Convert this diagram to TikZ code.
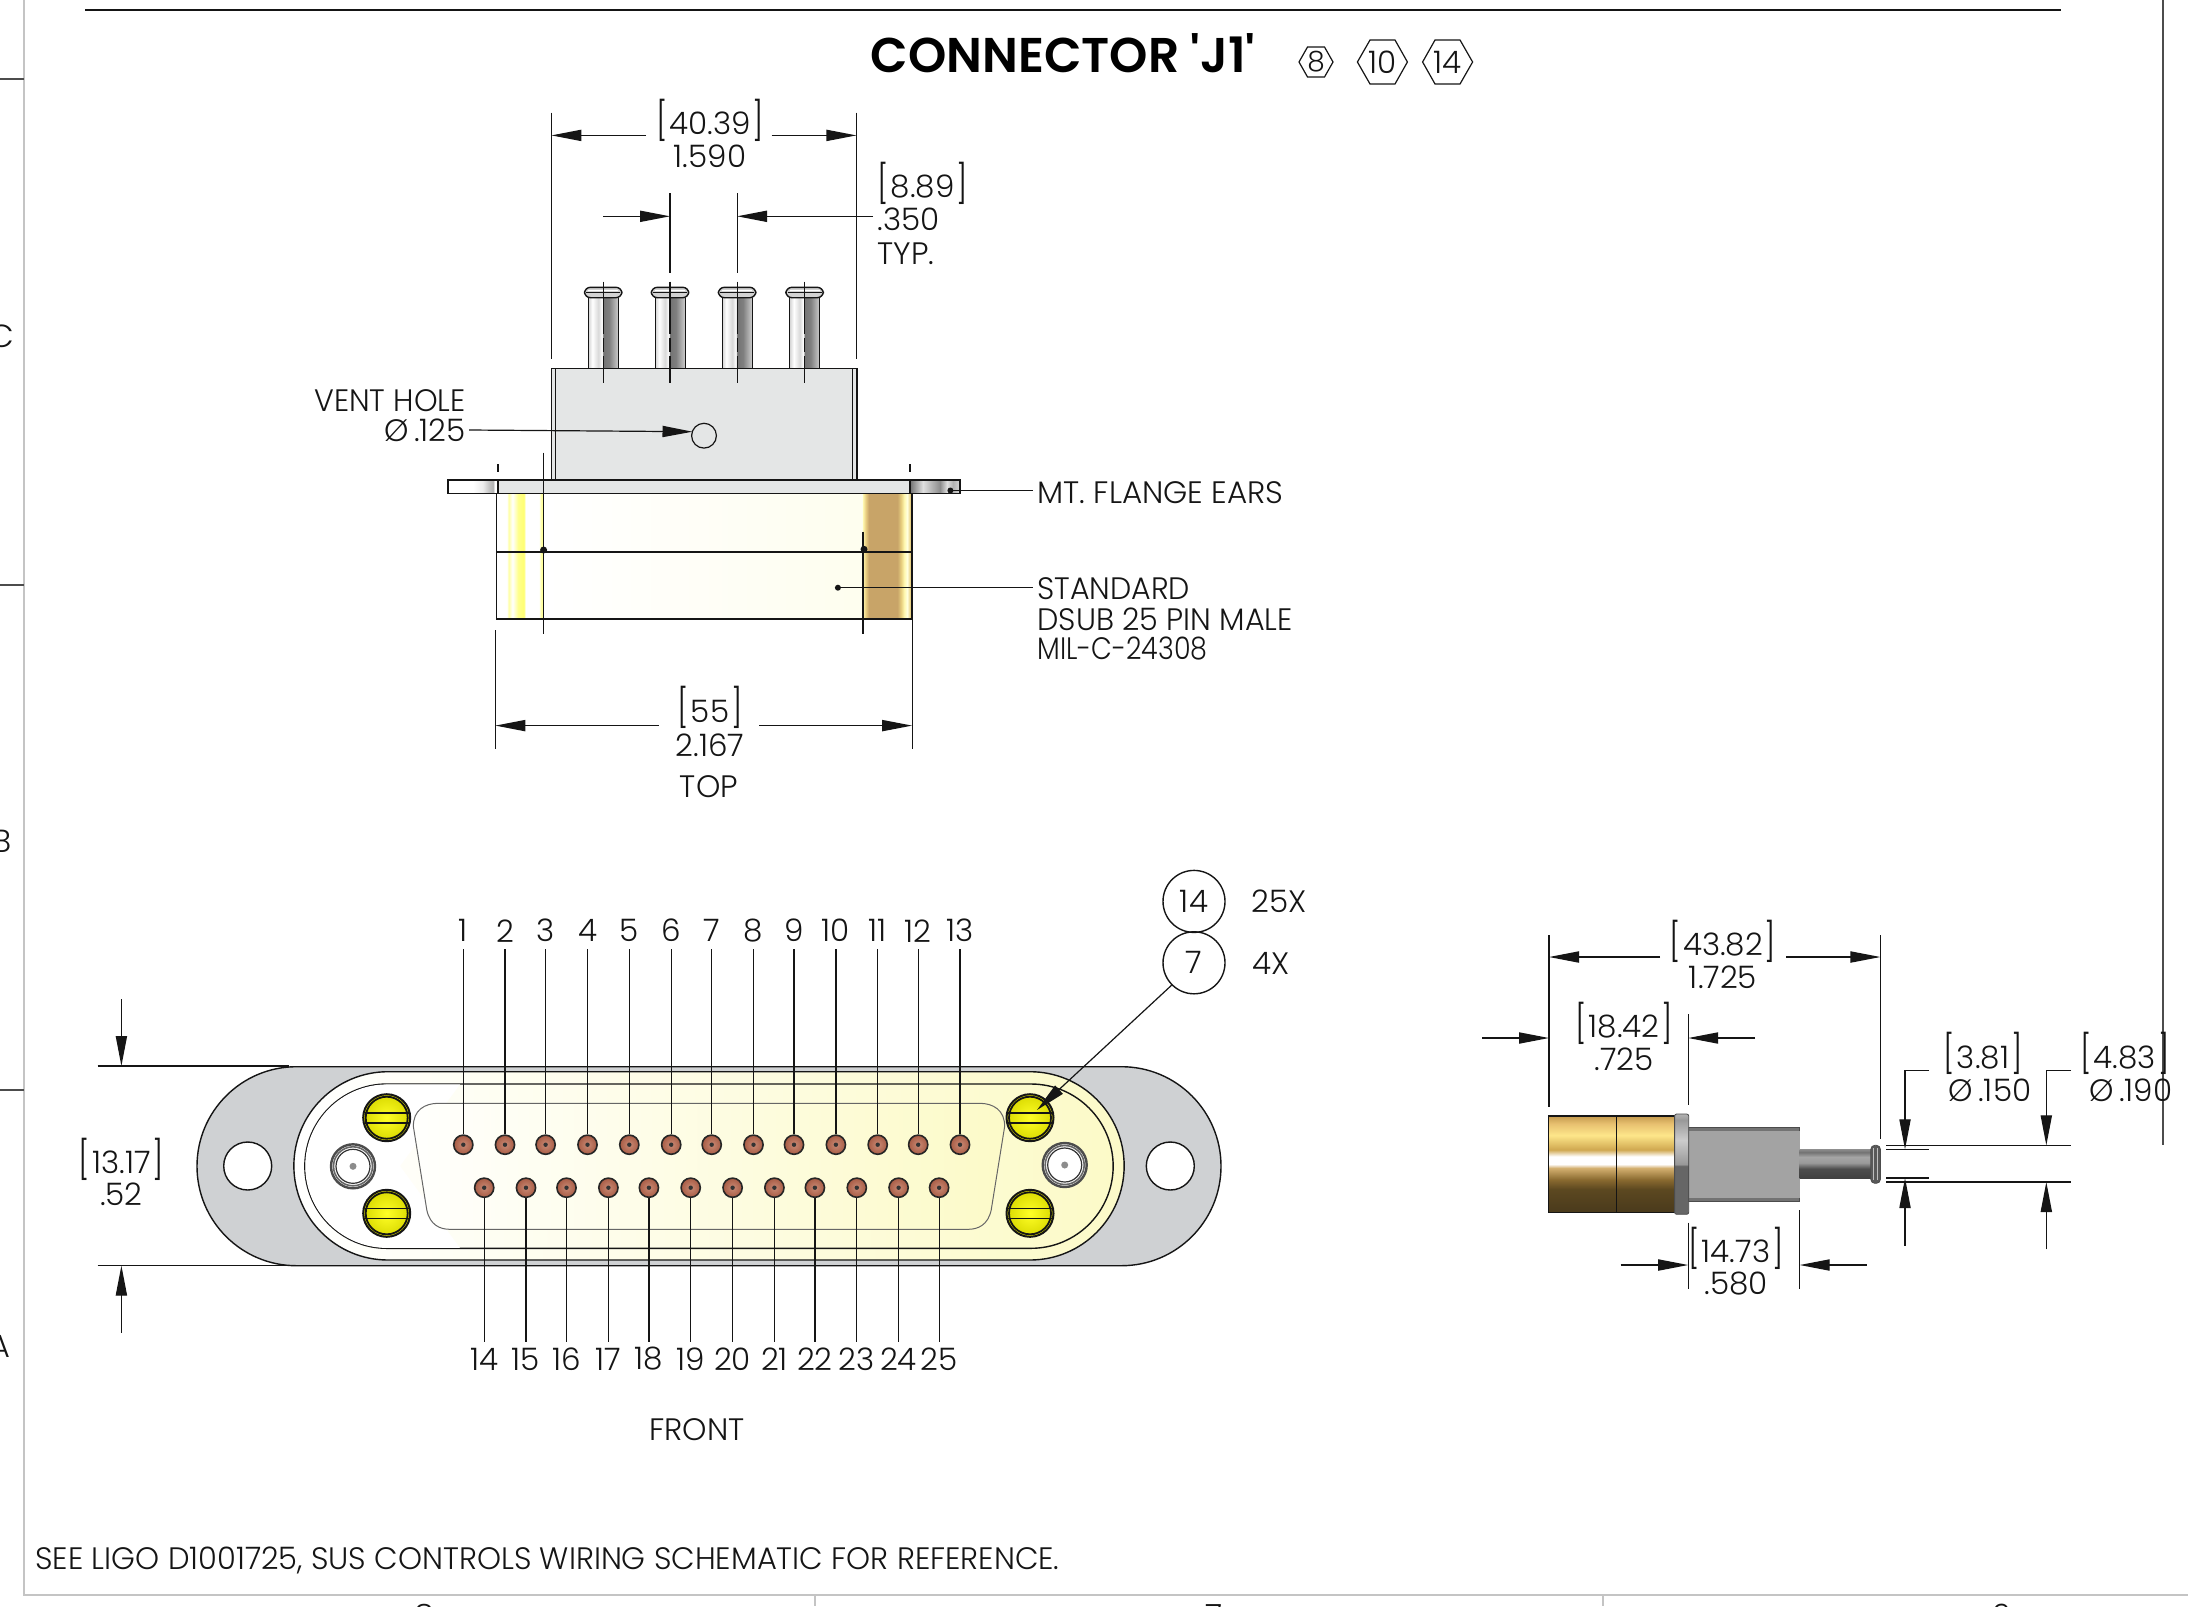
\documentclass[tikz,border=0pt]{standalone}
\usepackage{fontspec}
\setmainfont{Poppins}[UprightFont=* Light,BoldFont=* SemiBold]
\newfontfamily\titlefont{Poppins SemiBold}
\usetikzlibrary{arrows.meta}
\definecolor{flgray}{HTML}{CFD1D3}
\definecolor{boxgray}{HTML}{E4E6E6}
\definecolor{cream}{HTML}{FCFAC8}
\definecolor{ink}{HTML}{151515}
\definecolor{borderg}{HTML}{C4C4C4}
\definecolor{ga}{HTML}{C49A4E}\definecolor{gb}{HTML}{E8C070}\definecolor{gc}{HTML}{FDE68A}\definecolor{gd}{HTML}{D0A850}
\definecolor{ge}{HTML}{D4B070}\definecolor{gf}{HTML}{8A6A30}\definecolor{gg}{HTML}{5C4820}\definecolor{gh}{HTML}{4A3A1C}
\definecolor{ra}{HTML}{FFF8B0}\definecolor{rb}{HTML}{E8CC80}\definecolor{rc}{HTML}{C8A468}\definecolor{rd}{HTML}{E8D080}\definecolor{re}{HTML}{FFFFE0}
\definecolor{pinin}{HTML}{C98A75}\definecolor{pinout}{HTML}{A85C45}
\pgfdeclarehorizontalshading{goldR}{100bp}{color(0bp)=(ra);color(25bp)=(ra);color(28bp)=(rb);color(31bp)=(rc);color(60bp)=(rc);color(64bp)=(rd);color(67bp)=(ra);color(70bp)=(re);color(73bp)=(rd);color(75bp)=(re);color(100bp)=(re)}
\pgfdeclarehorizontalshading{goldL}{100bp}{color(0bp)=(white);color(25bp)=(white);color(36bp)=(white);color(38bp)=(yellow!35!white);color(42bp)=(white);color(48bp)=(yellow!45!white);color(54bp)=(yellow!55!white);color(56bp)=(white);color(70bp)=(white);color(73bp)=(yellow!45!white);color(75bp)=(white);color(100bp)=(white)}
\pgfdeclarehorizontalshading{pinsh}{100bp}{color(0bp)=(white);color(25bp)=(gray!35);color(32bp)=(white);color(42bp)=(gray!30);color(48bp)=(white);color(50bp)=(gray!90!black);color(60bp)=(gray);color(70bp)=(gray!60);color(75bp)=(gray!40);color(100bp)=(gray)}
\pgfdeclarehorizontalshading{flL}{100bp}{color(0bp)=(white);color(50bp)=(white);color(60bp)=(gray!15);color(66bp)=(gray!45);color(70bp)=(gray!60);color(72bp)=(white);color(100bp)=(white)}
\pgfdeclarehorizontalshading{flR}{100bp}{color(0bp)=(gray);color(25bp)=(gray!90!black);color(38bp)=(gray!25);color(55bp)=(gray!90);color(62bp)=(gray!25);color(68bp)=(gray!60);color(75bp)=(gray!30);color(100bp)=(gray)}
\pgfdeclareverticalshading{goldS}{100bp}{color(0bp)=(gh);color(25bp)=(gh);color(37bp)=(gg);color(42bp)=(gf);color(48bp)=(ge);color(50bp)=(white);color(54bp)=(white);color(57.5bp)=(gd);color(65bp)=(gc);color(71bp)=(gb);color(75bp)=(ga);color(100bp)=(ga)}
\pgfdeclareverticalshading{stemS}{100bp}{color(0bp)=(black!70);color(25bp)=(black!75);color(42bp)=(black!70);color(52bp)=(black!40);color(62bp)=(black!35);color(70bp)=(black!55);color(75bp)=(black!45);color(100bp)=(black!50)}
\pgfdeclareverticalshading{flS}{100bp}{color(0bp)=(black!60);color(25bp)=(black!60);color(49bp)=(black!60);color(50bp)=(black!40);color(62bp)=(black!20);color(72bp)=(black!40);color(75bp)=(black!30);color(100bp)=(black!30)}
\tikzset{
  lbl/.style={font=\fontsize{15.5}{17}\selectfont,inner sep=0pt,text=ink},
  brk/.style={lbl,yshift=-0.7pt},
  thinl/.style={draw=ink,line width=0.6pt},
  outl/.style={draw=ink,line width=0.7pt},
  dimarr/.style={thinl,-{Triangle[length=15pt,width=5.6pt]}},
  pinst/.style={circle,draw=black!85,line width=0.8pt,inner sep=0pt,minimum size=9.6pt,shading=radial,inner color=pinin,outer color=pinout},
  hexa/.style={draw=ink,line width=0.6pt},
  balloon/.style={circle,draw=ink,line width=0.7pt,minimum size=31pt,inner sep=0pt,font=\fontsize{15.5}{17}\selectfont,text=ink}
}
\newcommand{\bl}{\smash{\raisebox{0.3pt}{\scalebox{1}[1.22]{[}}}\hspace{1pt}}
\newcommand{\br}{\hspace{1pt}\smash{\raisebox{0.3pt}{\scalebox{1}[1.22]{]}}}}
\newcommand{\pinhead}[1]{%
  \shade[shading=pinsh] (#1-15,297.7) rectangle (#1+15,368.3);
  \draw[outl,line width=0.5pt] (#1-15,297.7) -- (#1-15,368.3) (#1+15,297.7) -- (#1+15,368.3);
  \draw[outl,fill=gray!35,rounded corners=3pt] (#1-18.7,287.3) rectangle (#1+18.7,297.7);
  \draw[white,line width=0.8pt] (#1-15,290.5) -- (#1+15,290.5);
  \draw[ink,line width=0.4pt] (#1-17,292.5) -- (#1+17,292.5);
  \draw[thinl] (#1,281.7) -- (#1,320);
  \draw[thinl,dash pattern=on 7pt off 2pt] (#1,320) -- (#1,368);
  \draw[thinl] (#1,368.3) -- (#1,383.3);
}
\newcommand{\screw}[2]{%
  \draw[ink,line width=1pt,shading=radial,inner color=yellow!85!white,outer color=yellow!85!black] (#1,#2) circle[radius=23.5];
  \draw[ink,line width=0.9pt] (#1,#2) circle[radius=21];
  \draw[ink,line width=0.8pt] (#1-22,#2-5) -- (#1+22,#2-5) (#1-22,#2+5) -- (#1+22,#2+5);
}
\begin{document}
\begin{tikzpicture}[x=0.5pt,y=-0.5pt]
\useasboundingbox (0,0) rectangle (2188,1606);
\clip (0,0) rectangle (2188,1606);
\fill[white] (0,0) rectangle (2188,1606);
% ---------- sheet frame
\draw[borderg,line width=1.1pt] (24,0) -- (24,1595) -- (2188,1595);
\draw[borderg,line width=1pt] (815,1595) -- (815,1606) (1603,1595) -- (1603,1606);
\draw[black!70,line width=1pt] (0,79) -- (24,79) (0,585) -- (24,585) (0,1090) -- (24,1090);
\draw[ink,line width=0.9pt] (85,10) -- (2061,10);
\draw[black!70,line width=1.3pt] (2163,0) -- (2163,1145);
\node[lbl,font=\fontsize{16}{18}\selectfont] (mC) at (2,336) {C};
\node[lbl,font=\fontsize{16}{18}\selectfont] (mB) at (2,841) {B};
\node[lbl,font=\fontsize{16}{18}\selectfont] (mA) at (0,1346) {A};
\node[lbl,font=\fontsize{16}{18}\selectfont] (m8) at (424,1616) {8};
\node[lbl,font=\fontsize{16}{18}\selectfont] (m7) at (1214,1616) {7};
\node[lbl,font=\fontsize{16}{18}\selectfont] (m6) at (2002,1616) {6};
% ---------- title
\node[inner sep=0pt,font=\titlefont\fontsize{24.4}{26}\selectfont,text=black] (title) at (1063,53) {CONNECTOR 'J1'};
\draw[hexa] (1299,62) -- (1307.5,47) -- (1324.5,47) -- (1333,62) -- (1324.5,77) -- (1307.5,77) -- cycle;
\node[lbl,font=\fontsize{14}{16}\selectfont] (h8) at (1316,62) {8};
\draw[hexa] (1357.4,62) -- (1370,40) -- (1395,40) -- (1407.4,62) -- (1395,84) -- (1370,84) -- cycle;
\node[lbl] (h10) at (1382.4,62) {10};
\draw[hexa] (1422.6,62) -- (1435,40) -- (1460,40) -- (1472.6,62) -- (1460,84) -- (1435,84) -- cycle;
\node[lbl] (h14) at (1447.6,62) {14};
% ---------- top view
\foreach \px in {603.2,670,737.1,804.6}{\pinhead{\px}}
\draw[outl,fill=boxgray] (551.4,368.3) rectangle (856.8,480);
\draw[outl,line width=0.5pt] (555.7,368.3) -- (555.7,480) (852.9,368.3) -- (852.9,480);
\foreach \px in {603.2,670,737.1,804.6}{\draw[thinl] (\px,368.3) -- (\px,383.3);}
% body
\shade[left color=white,right color=cream!30!white] (543.6,493.7) rectangle (862.9,619);
\shade[shading=goldL] (496.4,493.7) rectangle (543.6,619);
\shade[shading=goldR] (862.9,493.7) rectangle (912.1,619);
\draw[outl] (496.4,493.7) rectangle (912.1,619);
\draw[outl] (496.4,552) -- (912.1,552);
% flange
\shade[shading=flL] (447.9,480) rectangle (497.9,493.7);
\fill[boxgray] (497.9,480) rectangle (910,493.7);
\shade[shading=flR] (910,480) rectangle (960,493.7);
\draw[outl] (447.9,480) rectangle (960,493.7);
\draw[outl,line width=0.9pt] (497.9,480) -- (497.9,493.7) (910,480) -- (910,493.7);
% centre lines
\draw[thinl] (543.6,452.7) -- (543.6,634);
\draw[thinl] (862.9,531.7) -- (862.9,634);
\draw[thinl] (497.9,464) -- (497.9,472) (910,464) -- (910,472);
\fill[ink] (543.6,550) circle[radius=3.5] (864,549.3) circle[radius=3.5];
% vent hole
\draw[thinl] (704,435.7) circle[radius=12.4];
\coordinate (ventc) at (692.5,431.7);
\node[lbl,anchor=east] (vent1) at (466,400.5) {\scalebox{.97}[1]{VENT HOLE}};
\node[lbl,anchor=east] (vent2) at (466,430) {Ø\,.125};
\draw[dimarr] (vent2.east)+(3,0) -- (ventc);
% leaders
\node[lbl,anchor=west] (ears) at (1037,492.6) {MT. FLANGE EARS};
\coordinate (earsd) at (950.4,490.5);
\fill[ink] (earsd) circle[radius=3];
\draw[thinl] (earsd) -- (1033,490.5);
\node[lbl,anchor=west] (st1) at (1037,589) {\scalebox{.97}[1]{STANDARD}};
\node[lbl,anchor=west] (st2) at (1037,619.6) {\scalebox{.975}[1]{DSUB 25 PIN MALE}};
\node[lbl,anchor=west] (st3) at (1037,649) {\scalebox{.87}[1]{MIL-C-24308}};
\coordinate (std) at (837.9,587.7);
\fill[ink] (std) circle[radius=3];
\draw[thinl] (std) -- (1033,587.7);
% dim 40.39
\draw[thinl] (551.4,112.7) -- (551.4,358.7) (856.4,112.7) -- (856.4,358.7);
\node[brk] (d1a) at (710,122) {\bl 40.39\br};
\node[lbl] (d1b) at (710,156) {1.590};
\draw[dimarr] (646,135.4) -- (551.4,135.4);
\draw[dimarr] (771.7,135.4) -- (856.4,135.4);
% dim 8.89
\draw[thinl] (670,193) -- (670,272.7) (737.1,193) -- (737.1,272.7);
\node[brk,anchor=west] (d2a) at (877,185.6) {\bl 8.89\br};
\node[lbl,anchor=west] (d2b) at (877,219) {.350};
\node[lbl,anchor=west] (d2c) at (877,254) {TYP.};
\draw[dimarr] (603.2,216.3) -- (670,216.3);
\draw[dimarr] (873,216.3) -- (737.1,216.3);
% dim 55
\draw[thinl] (495.4,630) -- (495.4,749) (912.1,619) -- (912.1,749);
\node[brk] (d3a) at (710,710) {\bl 55\br};
\node[lbl] (d3b) at (710,745) {2.167};
\node[lbl] (top) at (709,787) {TOP};
\draw[dimarr] (658.6,725.6) -- (495.4,725.6);
\draw[dimarr] (759,725.6) -- (912.1,725.6);
% ---------- front view
\draw[outl,fill=flgray] (296.5,1066.7) -- (1121.5,1066.7) arc[start angle=-90,end angle=90,radius=99.5] -- (296.5,1265.7) arc[start angle=90,end angle=270,radius=99.5] -- cycle;
\draw[outl,fill=white] (247.7,1166) circle[radius=24] (1170.3,1166) circle[radius=24];
\draw[outl,left color=white,right color=cream] (388,1071.7) -- (1030,1071.7) arc[start angle=-90,end angle=90,radius=94.15] -- (388,1260) arc[start angle=90,end angle=270,radius=94.15] -- cycle;
\draw[outl,left color=white,right color=cream] (387,1084) -- (1031,1084) arc[start angle=-90,end angle=90,radius=82.15] -- (387,1248.3) arc[start angle=90,end angle=270,radius=82.15] -- cycle;
\fill[white] (387,1084.4) arc[start angle=-90,end angle=-270,radius=81.75] -- (460,1247.9) -- (400,1166) -- (460,1084.4) -- cycle;
\draw[draw=black!60,line width=0.5pt,left color=white!60!cream!10!white,right color=cream]
  (413.4,1126.7) .. controls (413,1110) and (425,1103.3) .. (438.3,1103.3) -- (979.7,1103.3) .. controls (993,1103.3) and (1005,1110) .. (1004.6,1126.7) -- (991.2,1210) .. controls (988,1225) and (978,1229.3) .. (968.2,1229.3) -- (449.8,1229.3) .. controls (440,1229.3) and (430,1225) .. (426.8,1210) -- cycle;
% extension and dim for .52
\draw[thinl] (97.7,1066) -- (289,1066) (97.7,1265.6) -- (289,1265.6);
\node[brk] (d4a) at (121.4,1161) {\bl 13.17\br};
\node[lbl] (d4b) at (121.4,1194.5) {.52};
\draw[dimarr] (121.4,999) -- (121.4,1066);
\draw[dimarr] (121.4,1332.6) -- (121.4,1265.6);
% screws and coax
\screw{386.7}{1117.7}
\screw{386.7}{1213.3}
\screw{1030}{1117.7}
\screw{1030}{1213.3}
\foreach \cx/\cy in {353/1166.3,1064.7/1165}{
  \draw[black!70,line width=1.2pt,fill=white] (\cx,\cy) circle[radius=22];
  \draw[black!60,line width=0.8pt] (\cx,\cy) circle[radius=19.5];
  \draw[black!80,line width=0.6pt] (\cx,\cy) circle[radius=17];
  \fill[black!45] (\cx,\cy) circle[radius=3.5];
}
% pins
\foreach \n/\x in {1/463.3,2/505,3/545.6,4/587.5,5/629.3,6/671.2,7/711.7,8/753.5,9/794,10/835.9,11/877.7,12/918.2,13/960}{
  \node[lbl] (n\n) at (\x,930.7) {\n};
  \node[pinst] (p\n) at (\x,1144.7) {};
  \draw[thinl] (\x,949) -- (p\n.north);
  \fill[black!80] (p\n) circle[radius=2.2];
}
\foreach \n/\x in {14/484.2,15/526,16/566.5,17/608.4,18/648.9,19/690.7,20/732.6,21/774.4,22/814.9,23/856.8,24/898.6,25/939.1}{
  \node[lbl] (n\n) at (\x,1359) {\n};
  \node[pinst] (p\n) at (\x,1187.7) {};
  \draw[thinl] (p\n.south) -- (\x,1342);
  \fill[black!80] (p\n) circle[radius=2.2];
}
\node[lbl] (front) at (697,1430) {FRONT};
% balloons
\node[balloon] (b14) at (1194,901.4) {14};
\node[balloon] (b7) at (1194,962.8) {7};
\node[lbl] (q25) at (1279,901.4) {25X};
\node[lbl] (q4) at (1271,963) {4X};
\coordinate (sc7) at (1037,1110);
\draw[dimarr] (b7.225) -- (sc7);
% ---------- side view
\shade[shading=goldS] (1548.3,1116) rectangle (1674.6,1212.3);
\draw[outl] (1548.3,1116) rectangle (1674.6,1212.3);
\draw[outl,line width=0.5pt] (1616.3,1116) -- (1616.3,1212.3);
\draw[black!70,fill=black!55,line width=0.5pt] (1688.7,1127.3) rectangle (1799.7,1201.7);
\fill[black!36] (1688.7,1131.3) rectangle (1799.7,1197.7);
\shade[shading=stemS] (1799.7,1149.3) rectangle (1870.8,1178.7);
\shade[shading=flS,draw=black!70,line width=0.4pt,rounded corners=1pt] (1674.6,1114) rectangle (1688.7,1214.3);
\draw[black!70,fill=black!65,line width=0.4pt,rounded corners=2pt] (1870.8,1145.3) rectangle (1880.4,1183.3);
\draw[black!25,line width=0.5pt] (1873.5,1148) -- (1873.5,1180) (1877,1148) -- (1877,1180);
% side dims
\draw[thinl] (1549,935) -- (1549,1106.7) (1880.4,935) -- (1880.4,1139.3);
\draw[thinl] (1688.2,1014) -- (1688.2,1105);
\draw[thinl] (1688.2,1222.7) -- (1688.2,1289) (1799.7,1210) -- (1799.7,1289);
\node[brk] (d5a) at (1723,943.3) {\bl 43.82\br};
\node[lbl] (d5b) at (1723,976.8) {1.725};
\draw[dimarr] (1660,957) -- (1549,957);
\draw[dimarr] (1786,957) -- (1880.4,957);
\node[brk] (d6a) at (1624,1025.6) {\bl 18.42\br};
\node[lbl] (d6b) at (1624,1059) {.725};
\draw[dimarr] (1482,1038) -- (1549,1038);
\draw[dimarr] (1755,1038) -- (1688.2,1038);
\node[brk] (d7a) at (1736,1250) {\bl 14.73\br};
\node[lbl] (d7b) at (1736,1283.8) {.580};
\draw[dimarr] (1620.7,1265) -- (1688.2,1265);
\draw[dimarr] (1866.8,1265) -- (1799.7,1265);
\draw[thinl] (1886,1145.3) -- (2071,1145.3) (1886,1182) -- (2071,1182);
\draw[thinl] (1886,1149.3) -- (1929,1149.3) (1886,1178) -- (1929,1178);
\node[brk] (d8a) at (1983,1056) {\bl 3.81\br};
\node[lbl] (d8b) at (1990,1090) {Ø\,.150};
\draw[dimarr] (1929,1070.7) -- (1905,1070.7) -- (1905,1149.3);
\draw[dimarr] (1905,1245.7) -- (1905,1178);
\node[brk] (d9a) at (2125,1056) {\bl 4.83\br};
\node[lbl] (d9b) at (2131,1090) {Ø\,.190};
\draw[dimarr] (2071,1070.7) -- (2046.3,1070.7) -- (2046.3,1145.3);
\draw[dimarr] (2046.3,1249.3) -- (2046.3,1182);
% note
\node[lbl,anchor=west] (note) at (35,1560) {\scalebox{.985}[1]{SEE LIGO D1001725, SUS CONTROLS WIRING SCHEMATIC FOR REFERENCE.}};
\end{tikzpicture}
\end{document}
